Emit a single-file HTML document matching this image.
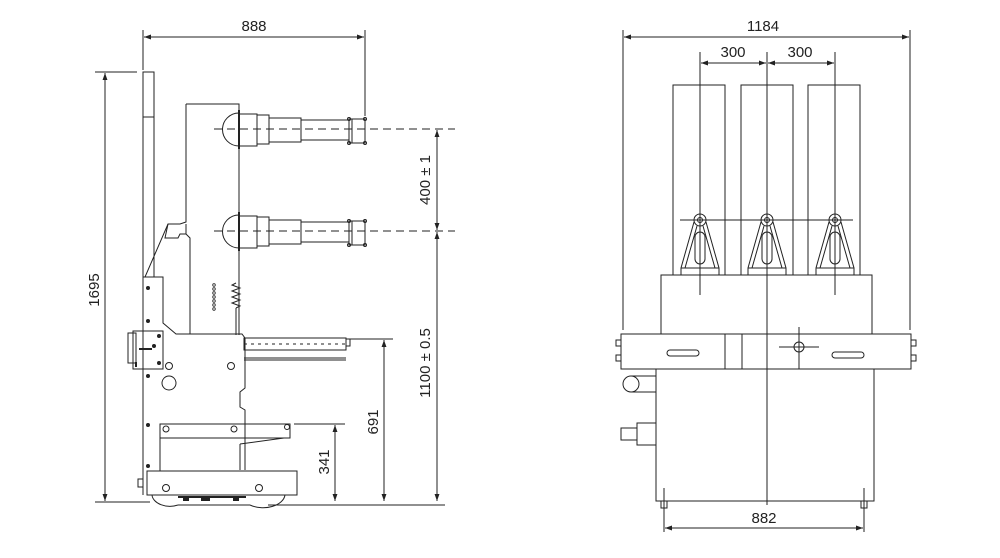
<!DOCTYPE html>
<html><head><meta charset="utf-8"><style>
html,body{margin:0;padding:0;background:#fff;}
svg{display:block;}
text{font-family:"Liberation Sans",sans-serif;font-size:15px;fill:#222;}
</style></head><body>
<svg width="1000" height="558" viewBox="0 0 1000 558" xmlns="http://www.w3.org/2000/svg">
<defs>
<marker id="a" viewBox="0 0 10 10" refX="10" refY="5" markerWidth="9" markerHeight="7" orient="auto-start-reverse" markerUnits="userSpaceOnUse"><path d="M0,1.5 L10,5 L0,8.5z" fill="#222"/></marker>
</defs>
<g stroke="#222" stroke-width="1" fill="none">
<line x1="143" y1="30" x2="143" y2="70"/>
<line x1="365" y1="30" x2="365" y2="116"/>
<line x1="144" y1="37" x2="364" y2="37" marker-start="url(#a)" marker-end="url(#a)"/>
<line x1="95" y1="72" x2="137" y2="72"/>
<line x1="95" y1="502" x2="150" y2="502"/>
<line x1="105" y1="73" x2="105" y2="501" marker-start="url(#a)" marker-end="url(#a)"/>
<line x1="437" y1="130" x2="437" y2="230" marker-start="url(#a)" marker-end="url(#a)"/>
<line x1="437" y1="232" x2="437" y2="501" marker-start="url(#a)" marker-end="url(#a)"/>
<line x1="350" y1="339" x2="393" y2="339"/>
<line x1="384" y1="340" x2="384" y2="501" marker-start="url(#a)" marker-end="url(#a)"/>
<line x1="294" y1="424" x2="345" y2="424"/>
<line x1="335" y1="425" x2="335" y2="501" marker-start="url(#a)" marker-end="url(#a)"/>
<line x1="268" y1="505" x2="445" y2="505"/>
<line x1="214" y1="129" x2="455" y2="129" stroke-dasharray="8,5"/>
<line x1="214" y1="231" x2="455" y2="231" stroke-dasharray="8,5"/>
<rect x="143" y="72" width="11" height="205"/>
<line x1="143" y1="117" x2="154" y2="117"/>
<line x1="143" y1="277" x2="143" y2="495"/>
<path d="M186,104 H239 V335"/>
<path d="M186,104 V222 L180,224 H168 L145,277 H163 V323 L176,334 H242 L245,338"/>
<path d="M168,224 L165,238 L178,238 L180,234 L186,234 L190,238 V334"/>
<path d="M186,234 V224"/>
<path d="M245,338 V388 L240,392 V407 L245,410 V470"/>
<path d="M240,444 V470"/>
<g id="b">
<path d="M239,113 A16,16 0 0 0 239,146" />
<line x1="239" y1="110" x2="239" y2="149" stroke-width="2"/>
<rect x="239" y="114" width="18" height="32"/>
<rect x="257" y="115" width="12" height="29"/>
<rect x="269" y="118" width="32" height="24"/>
<rect x="301" y="120" width="48" height="20"/>
<rect x="349" y="119" width="16" height="24"/>
<line x1="352" y1="119" x2="352" y2="143"/>
<circle cx="349" cy="119" r="1.5"/><circle cx="365" cy="119" r="1.5"/>
<circle cx="349" cy="143" r="1.5"/><circle cx="365" cy="143" r="1.5"/>
</g>
<use href="#b" transform="translate(0,102)"/>
<path d="M236,335 V308 M236,308 l4,-2 -8,-3 8,-3 -8,-3 8,-3 -8,-3 8,-3 -8,-3 4,-2"/>
<g stroke-width="0.8"><circle cx="214" cy="285" r="1.3"/><circle cx="214" cy="289" r="1.3"/><circle cx="214" cy="293" r="1.3"/><circle cx="214" cy="297" r="1.3"/><circle cx="214" cy="301" r="1.3"/><circle cx="214" cy="305" r="1.3"/><circle cx="214" cy="309" r="1.3"/></g>
<rect x="244" y="338" width="102" height="12"/>
<line x1="244" y1="344" x2="346" y2="344" stroke-dasharray="3,4"/>
<rect x="346" y="339" width="4" height="7"/>
<line x1="244" y1="358" x2="346" y2="358"/>
<line x1="244" y1="360" x2="346" y2="360"/>
<rect x="133" y="331" width="30" height="38"/>
<rect x="128" y="333" width="8" height="30"/>
<line x1="139" y1="349" x2="152" y2="349" stroke-width="2"/>
<line x1="136" y1="362" x2="136" y2="367" stroke-width="2"/>
<circle cx="169" cy="366" r="3.5"/><circle cx="231" cy="366" r="3.5"/><circle cx="169" cy="383" r="7"/>
<rect x="160" y="424" width="130" height="14"/>
<circle cx="166" cy="429" r="3"/><circle cx="234" cy="429" r="3"/><circle cx="287" cy="427" r="2.5"/>
<line x1="240" y1="444" x2="284" y2="438"/>
<line x1="160" y1="438" x2="160" y2="471"/>
<rect x="147" y="471" width="150" height="24"/>
<rect x="138" y="479" width="5" height="8"/>
<circle cx="166" cy="488" r="3.5"/><circle cx="259" cy="488" r="3.5"/>
<path d="M152,495 A18,12 0 0 0 178,505 M250,505 A22,14 0 0 0 285,495"/>
<line x1="178" y1="505" x2="250" y2="505"/>
<line x1="178" y1="497" x2="246" y2="497" stroke-width="2"/>
</g>
<g fill="#222">
<rect x="183" y="497" width="6" height="4"/><rect x="201" y="497" width="9" height="4"/><rect x="233" y="497" width="6" height="4"/>
<circle cx="148" cy="288" r="2"/><circle cx="148" cy="321" r="2"/><circle cx="148" cy="376" r="2"/><circle cx="148" cy="425" r="2"/><circle cx="148" cy="466" r="2"/>
<circle cx="159" cy="336" r="2"/><circle cx="159" cy="363" r="2"/><circle cx="154" cy="346" r="2"/>
</g>
<g stroke="#222" stroke-width="1" fill="none">
<line x1="623" y1="30" x2="623" y2="330"/>
<line x1="910" y1="30" x2="910" y2="330"/>
<line x1="624" y1="37" x2="909" y2="37" marker-start="url(#a)" marker-end="url(#a)"/>
<line x1="701" y1="63" x2="766" y2="63" marker-start="url(#a)" marker-end="url(#a)"/>
<line x1="768" y1="63" x2="834" y2="63" marker-start="url(#a)" marker-end="url(#a)"/>
<line x1="700" y1="52" x2="700" y2="295"/>
<line x1="767" y1="52" x2="767" y2="505"/>
<line x1="835" y1="52" x2="835" y2="295"/>
<rect x="673" y="85" width="52" height="190"/>
<rect x="741" y="85" width="52" height="190"/>
<rect x="808" y="85" width="52" height="190"/>
<line x1="680" y1="220" x2="853" y2="220"/>
<g id="p">
<circle cx="700" cy="220" r="6"/><circle cx="700" cy="220" r="2.5"/>
<path d="M694,222 L681,268 V275 M706,222 L719,268 V275 M681,268 H719"/>
<path d="M697,226 L685,268 M703,226 L715,268"/>
<rect x="695" y="232" width="10" height="32" rx="5"/>
</g>
<use href="#p" transform="translate(67,0)"/>
<use href="#p" transform="translate(135,0)"/>
<rect x="661" y="275" width="211" height="59"/>
<rect x="621" y="334" width="290" height="35"/>
<line x1="725" y1="334" x2="725" y2="369"/><line x1="742" y1="334" x2="742" y2="369"/>
<rect x="667" y="350" width="32" height="6" rx="3"/>
<rect x="832" y="352" width="32" height="6" rx="3"/>
<circle cx="799" cy="347" r="5"/>
<line x1="779" y1="347" x2="819" y2="347"/><line x1="799" y1="327" x2="799" y2="369"/>
<rect x="616" y="340" width="5" height="6"/><rect x="616" y="355" width="5" height="6"/>
<rect x="911" y="340" width="5" height="6"/><rect x="911" y="355" width="5" height="6"/>
<rect x="656" y="369" width="218" height="132"/>
<rect x="631" y="376" width="25" height="16"/>
<circle cx="631" cy="384" r="8" fill="#fff"/>
<rect x="637" y="423" width="19" height="22"/>
<rect x="621" y="428" width="16" height="12"/>
<rect x="661" y="501" width="6" height="7"/>
<rect x="861" y="501" width="6" height="7"/>
<line x1="664" y1="488" x2="664" y2="532"/>
<line x1="864" y1="488" x2="864" y2="532"/>
<line x1="665" y1="528" x2="863" y2="528" marker-start="url(#a)" marker-end="url(#a)"/>
</g>
<text x="254" y="31" text-anchor="middle">888</text>
<text x="763" y="31" text-anchor="middle">1184</text>
<text x="733" y="57" text-anchor="middle">300</text>
<text x="800" y="57" text-anchor="middle">300</text>
<text x="764" y="523" text-anchor="middle">882</text>
<text transform="translate(99,290) rotate(-90)" text-anchor="middle">1695</text>
<text transform="translate(430,180) rotate(-90)" text-anchor="middle">400 ± 1</text>
<text transform="translate(430,363) rotate(-90)" text-anchor="middle">1100 ± 0.5</text>
<text transform="translate(378,422) rotate(-90)" text-anchor="middle">691</text>
<text transform="translate(329,462) rotate(-90)" text-anchor="middle">341</text>
</svg>
</body></html>
